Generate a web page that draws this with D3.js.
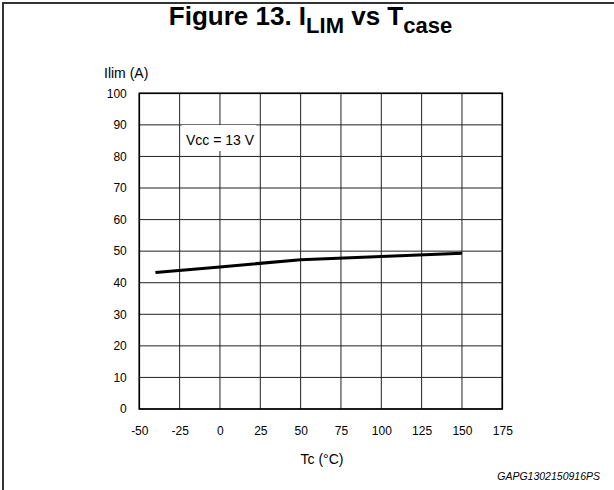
<!DOCTYPE html>
<html>
<head>
<meta charset="utf-8">
<script src="https://cdn.jsdelivr.net/npm/d3@7/dist/d3.min.js"></script>
<style>
  html, body { margin: 0; padding: 0; background: #fff; }
  svg { display: block; font-family: "Liberation Sans", Arial, sans-serif; }
</style>
</head>
<body>
<svg id="chart" width="614" height="490"></svg>
<script>
// Data
const tempC = [-40, 0, 50, 100, 150];
const ilimA = [43.2, 45.0, 47.3, 48.3, 49.3];
const xTicks = [-50, -25, 0, 25, 50, 75, 100, 125, 150, 175];
const yTicks = [0, 10, 20, 30, 40, 50, 60, 70, 80, 90, 100];
const xDomain = [-50, 175];
const yDomain = [0, 100];

const svg = d3.select("#chart");
const plot = { left: 139.3, right: 502.3, top: 93.3, bottom: 409 };

// Outer frame (right/bottom edges fall outside the picture)
svg.append("rect").attr("x", 3).attr("y", 3).attr("width", 700).attr("height", 600)
  .attr("fill", "none").attr("stroke", "#333").attr("stroke-width", 2);

// Title
const title = svg.append("text").attr("x", 310.5).attr("y", 25)
  .attr("text-anchor", "middle").attr("font-weight", "bold").attr("font-size", 26).attr("fill", "#000");
title.append("tspan").text("Figure 13. I");
title.append("tspan").attr("font-size", 22).attr("dy", 8).text("LIM");
title.append("tspan").attr("dy", -8).text(" vs T");
title.append("tspan").attr("font-size", 22).attr("dy", 8).text("case");

const x = d3.scaleLinear().domain(xDomain).range([plot.left, plot.right]);
const y = d3.scaleLinear().domain(yDomain).range([plot.bottom, plot.top]);

// Grid
const g = svg.append("g");
g.selectAll("line.v").data(xTicks).join("line")
  .attr("x1", d => x(d)).attr("x2", d => x(d))
  .attr("y1", plot.top).attr("y2", plot.bottom)
  .attr("stroke", "#222").attr("stroke-width", 1);
g.selectAll("line.h").data(yTicks).join("line")
  .attr("y1", d => y(d)).attr("y2", d => y(d))
  .attr("x1", plot.left).attr("x2", plot.right)
  .attr("stroke", "#222").attr("stroke-width", 1);

// Plot border
svg.append("rect").attr("x", plot.left).attr("y", plot.top)
  .attr("width", plot.right - plot.left).attr("height", plot.bottom - plot.top)
  .attr("fill", "none").attr("stroke", "#000").attr("stroke-width", 1.6);

// Axes (labels only)
const xAxis = svg.append("g").attr("transform", `translate(0,${plot.bottom})`)
  .call(d3.axisBottom(x).tickValues(xTicks).tickSize(0).tickPadding(17).tickFormat(d => String(d)));
xAxis.select(".domain").remove();
xAxis.selectAll("text").attr("font-size", 12).attr("fill", "#000")
  .attr("font-family", "Liberation Sans, Arial, sans-serif");

const yAxis = svg.append("g").attr("transform", `translate(${plot.left},0)`)
  .call(d3.axisLeft(y).tickValues(yTicks).tickSize(0).tickPadding(12.5).tickFormat(d => String(d)));
yAxis.select(".domain").remove();
yAxis.selectAll("text").attr("font-size", 12).attr("fill", "#000")
  .attr("font-family", "Liberation Sans, Arial, sans-serif");

// Vcc label with white box
svg.append("rect").attr("x", 182).attr("y", 125).attr("width", 74).attr("height", 26).attr("fill", "#fff");
svg.append("text").attr("x", 186).attr("y", 145).attr("font-size", 14).attr("fill", "#000").text("Vcc = 13 V");

// Data line
const line = d3.line().x(d => x(d[0])).y(d => y(d[1]));
svg.append("path").datum(tempC.map((t, i) => [t, ilimA[i]]))
  .attr("d", line).attr("fill", "none").attr("stroke", "#000").attr("stroke-width", 3);

// Axis titles
svg.append("text").attr("x", 104).attr("y", 78).attr("font-size", 14).attr("fill", "#000").text("Ilim (A)");
svg.append("text").attr("x", 322).attr("y", 464).attr("text-anchor", "middle").attr("font-size", 14).attr("fill", "#000").text("Tc (°C)");

// Figure code
svg.append("text").attr("x", 600).attr("y", 480).attr("text-anchor", "end")
  .attr("font-size", 10.5).attr("font-style", "italic").attr("fill", "#000").text("GAPG1302150916PS");
</script>
</body>
</html>
